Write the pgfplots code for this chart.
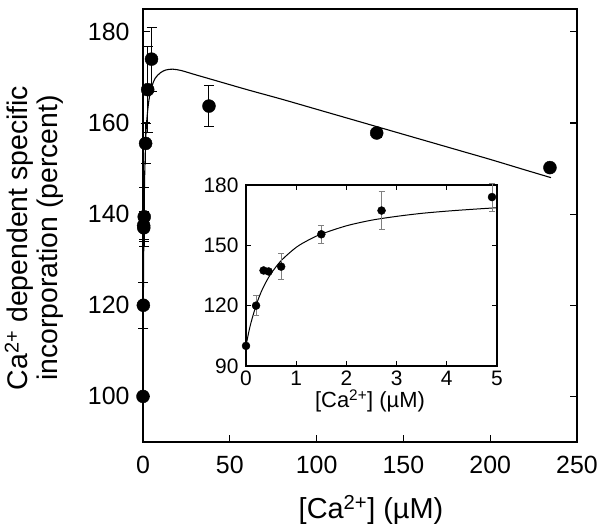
\documentclass[border=0pt]{standalone}
\usepackage{fontspec}
\setmainfont{Liberation Sans}
\usepackage{pgfplots}
\pgfplotsset{compat=1.18}
\begin{document}
\begin{tikzpicture}[x=1bp,y=1bp]
\useasboundingbox (0,0) rectangle (601,531);
% main axis
\begin{axis}[at={(143bp,89bp)}, anchor=south west, scale only axis,
  width=434bp, height=433bp,
  xmin=0, xmax=250, ymin=90, ymax=185,
  xtick={0,50,...,250}, ytick={100,120,...,180},
  tick align=inside, xtick pos=bottom, ytick pos=both, yticklabel pos=left,
  major tick length=7bp,
  axis line style={line width=1.8bp},
  every tick/.style={line width=1.2bp, black},
  ticklabel style={font=\fontsize{25}{30}\selectfont},
  /pgf/number format/assume math mode=true,
  xticklabel style={yshift=-11bp},
  yticklabel style={xshift=-10bp},
  clip=false]
\addplot[black, line width=1.1bp, smooth, no marks] coordinates {
(0,100) (0.1,111.6) (0.2,120.1) (0.35,129.4) (0.5,136.0) (0.7,142.4) (1,149.0)
(1.5,155.6) (2,159.7) (3,163.8) (4,166.3) (5,167.9) (7,169.8) (10,171.0)
(13,171.6) (17,171.8) (22,171.5) (30,170.6) (40,169.5) (60,167.3) (80,165.2)
(100,163.0) (120,160.8) (140,158.6) (160,156.4) (180,154.2) (200,152.0)
(220,149.7) (235,148.0)};
\addplot[only marks, mark=*, mark size=6.5bp, black,
  error bars/.cd, y dir=both, y explicit,
  error bar style={line width=1bp, black},
  error mark options={black, mark size=5bp, line width=1bp, rotate=90}]
  coordinates {
(0,100) +- (0,0)
(0.2,120) +- (0,5)
(0.35,137.5) +- (0,3)
(0.45,137) +- (0,3)
(0.7,139.4) +- (0,6.5)
(1.5,155.5) +- (0,4.3)
(2.7,167.3) +- (0,9.5)
(4.9,174) +- (0,7)
(38,163.7) +- (0,4.5)
(134.6,157.8) +- (0,1)
(234.4,150.2) +- (0,0)
};
\end{axis}
% inset
\begin{axis}[at={(246bp,165bp)}, anchor=south west, scale only axis,
  width=251bp, height=181bp,
  xmin=0, xmax=5, ymin=90, ymax=180,
  xtick={0,1,...,5}, ytick={90,120,150,180},
  tick align=inside, xtick pos=both, ytick pos=both,
  xticklabel pos=left, yticklabel pos=left,
  major tick length=5bp,
  axis background/.style={fill=white},
  axis line style={line width=1.4bp},
  every tick/.style={line width=1bp, black},
  ticklabel style={font=\fontsize{21}{25}\selectfont},
  /pgf/number format/assume math mode=true,
  xticklabel style={yshift=-1.5bp},
  yticklabel style={xshift=-4bp},
  clip=false]
\addplot[black, line width=1bp, smooth, no marks] coordinates {
(0,100) (0.05,106.3) (0.1,111.6) (0.2,120.1) (0.3,126.7) (0.4,131.8) (0.5,136.0)
(0.7,142.4) (1,149.0) (1.25,152.7) (1.5,155.6) (2,159.7) (2.5,162.5) (3,164.4)
(3.5,165.9) (4,167.0) (4.5,167.9) (5,168.7)};
\addplot[only marks, mark=*, mark size=4bp, black,
  error bars/.cd, y dir=both, y explicit,
  error bar style={line width=0.8bp, gray},
  error mark options={gray, mark size=3bp, line width=0.8bp, rotate=90}]
  coordinates {
(0,100) +- (0,0)
(0.2,120) +- (0,5)
(0.35,137.5) +- (0,0)
(0.45,137) +- (0,0)
(0.7,139.4) +- (0,6.5)
(1.5,155.5) +- (0,4.3)
(2.7,167.3) +- (0,9.5)
(4.9,174) +- (0,7)
};
\end{axis}
\node[font=\fontsize{22}{26}\selectfont] at (370,130) {[Ca\textsuperscript{2+}] (µM)};
\node[font=\fontsize{29}{34}\selectfont] at (371,21) {[Ca\textsuperscript{2+}] (µM)};
\node[rotate=90, align=center, font=\fontsize{28.5}{30}\selectfont] at (34,293)
  {Ca\textsuperscript{2+} dependent specific\\incorporation (percent)};
\end{tikzpicture}
\end{document}
